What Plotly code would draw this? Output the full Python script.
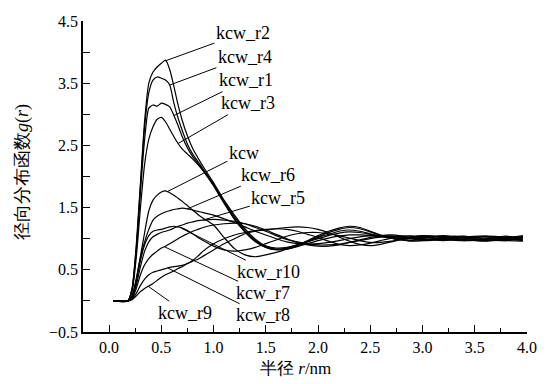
import plotly.graph_objects as go

# radius grid (nm)
r = [0.04, 0.18, 0.22, 0.26, 0.30, 0.34, 0.38, 0.42, 0.46, 0.50, 0.54, 0.58, 0.62, 0.66, 0.70,
     0.75, 0.80, 0.85, 0.90, 1.00, 1.10, 1.20, 1.30, 1.40, 1.50, 1.60, 1.70, 1.80, 1.90, 2.00,
     2.10, 2.20, 2.30, 2.40, 2.50, 2.60, 2.70, 2.80, 2.90, 3.00, 3.20, 3.40, 3.60, 3.80, 3.96]

kcw_r2 = [0, 0, 0.20, 0.90, 1.90, 2.90, 3.50, 3.68, 3.76, 3.82, 3.87, 3.72, 3.45, 3.15, 2.90,
          2.65, 2.45, 2.30, 2.16, 1.90, 1.62, 1.38, 1.16, 0.99, 0.88, 0.83, 0.84, 0.89, 0.97, 1.05,
          1.12, 1.17, 1.20, 1.18, 1.12, 1.06, 1.01, 0.98, 0.96, 0.97, 1.02, 1.04, 0.99, 0.97, 1.03]
kcw_r4 = [0, 0, 0.20, 0.85, 1.85, 2.80, 3.35, 3.55, 3.60, 3.58, 3.55, 3.47, 3.18, 2.94, 2.74,
          2.52, 2.36, 2.24, 2.12, 1.88, 1.60, 1.35, 1.13, 0.97, 0.86, 0.82, 0.83, 0.88, 0.95, 1.03,
          1.10, 1.15, 1.18, 1.16, 1.11, 1.05, 1.01, 0.98, 0.97, 0.99, 0.97, 1.00, 1.04, 1.02, 0.98]
kcw_r1 = [0, 0, 0.18, 0.80, 1.75, 2.60, 3.10, 3.15, 3.13, 3.18, 3.16, 3.12, 2.98, 2.82, 2.64,
          2.46, 2.32, 2.21, 2.10, 1.86, 1.58, 1.32, 1.11, 0.95, 0.86, 0.83, 0.85, 0.90, 0.96, 1.02,
          1.07, 1.12, 1.14, 1.12, 1.08, 1.04, 1.01, 0.99, 1.00, 1.02, 1.00, 0.97, 0.98, 1.03, 1.01]
kcw_r3 = [0, 0, 0.15, 0.70, 1.50, 2.20, 2.60, 2.80, 2.92, 2.95, 2.88, 2.76, 2.64, 2.53, 2.44,
          2.36, 2.28, 2.19, 2.09, 1.85, 1.57, 1.31, 1.11, 0.96, 0.88, 0.85, 0.86, 0.90, 0.95, 1.00,
          1.05, 1.09, 1.11, 1.10, 1.07, 1.04, 1.03, 1.02, 1.02, 1.03, 1.04, 1.01, 0.97, 0.98, 1.04]
kcw = [0, 0, 0.08, 0.35, 0.72, 1.10, 1.45, 1.62, 1.70, 1.75, 1.77, 1.74, 1.70, 1.65, 1.60,
       1.53, 1.46, 1.39, 1.33, 1.22, 1.02, 0.84, 0.74, 0.71, 0.74, 0.78, 0.83, 0.87, 0.92, 0.97,
       1.01, 1.04, 1.06, 1.06, 1.05, 1.03, 1.01, 1.00, 1.00, 1.00, 0.98, 1.02, 1.03, 1.00, 0.97]
kcw_r6 = [0, 0, 0.08, 0.35, 0.70, 0.95, 1.15, 1.30, 1.36, 1.40, 1.43, 1.45, 1.47, 1.48, 1.49,
          1.48, 1.46, 1.44, 1.42, 1.38, 1.32, 1.26, 1.19, 1.12, 1.06, 1.00, 0.95, 0.92, 0.91, 0.92,
          0.94, 0.97, 1.00, 1.03, 1.05, 1.05, 1.04, 1.02, 1.00, 0.98, 1.01, 1.03, 1.01, 0.98, 1.02]
kcw_r5 = [0, 0, 0.05, 0.25, 0.55, 0.80, 0.95, 1.03, 1.07, 1.10, 1.12, 1.14, 1.17, 1.20, 1.22,
          1.25, 1.27, 1.29, 1.30, 1.31, 1.30, 1.28, 1.24, 1.18, 1.12, 1.05, 0.99, 0.95, 0.92, 0.90,
          0.90, 0.91, 0.94, 0.97, 1.00, 1.03, 1.04, 1.04, 1.04, 1.03, 0.99, 0.97, 1.00, 1.04, 1.00]
kcw_r10 = [0, 0, 0.05, 0.30, 0.65, 0.90, 1.05, 1.12, 1.14, 1.15, 1.17, 1.19, 1.20, 1.19, 1.17,
           1.13, 1.08, 1.02, 0.97, 0.88, 0.82, 0.80, 0.82, 0.86, 0.92, 0.98, 1.04, 1.08, 1.10, 1.10,
           1.08, 1.05, 1.01, 0.97, 0.94, 0.94, 0.96, 0.99, 1.02, 1.04, 1.02, 0.98, 0.97, 1.01, 1.05]
kcw_r7 = [0, 0, 0.04, 0.20, 0.42, 0.58, 0.68, 0.75, 0.80, 0.85, 0.88, 0.92, 0.96, 1.00, 1.04,
          1.08, 1.12, 1.15, 1.18, 1.22, 1.24, 1.25, 1.24, 1.20, 1.14, 1.07, 1.00, 0.94, 0.90, 0.88,
          0.88, 0.90, 0.94, 0.98, 1.02, 1.05, 1.06, 1.04, 1.00, 0.97, 0.99, 1.03, 1.04, 0.99, 0.99]
kcw_r8 = [0, 0, 0.03, 0.12, 0.25, 0.35, 0.42, 0.46, 0.48, 0.50, 0.52, 0.54, 0.55, 0.56, 0.57,
          0.60, 0.65, 0.72, 0.80, 0.92, 1.00, 1.06, 1.10, 1.13, 1.15, 1.16, 1.15, 1.12, 1.07, 1.02,
          0.96, 0.91, 0.89, 0.90, 0.93, 0.97, 1.01, 1.04, 1.04, 1.01, 1.05, 1.02, 0.98, 0.97, 0.96]
kcw_r9 = [0, 0, 0.02, 0.08, 0.15, 0.20, 0.24, 0.28, 0.33, 0.38, 0.42, 0.45, 0.48, 0.52, 0.55,
          0.60, 0.64, 0.67, 0.72, 0.82, 0.92, 1.00, 1.08, 1.12, 1.14, 1.16, 1.18, 1.19, 1.18, 1.15,
          1.10, 1.03, 0.96, 0.91, 0.89, 0.91, 0.95, 0.99, 1.03, 1.05, 1.03, 0.99, 0.96, 1.00, 1.03]

series = [("kcw_r2", kcw_r2), ("kcw_r4", kcw_r4), ("kcw_r1", kcw_r1), ("kcw_r3", kcw_r3),
          ("kcw", kcw), ("kcw_r6", kcw_r6), ("kcw_r5", kcw_r5), ("kcw_r10", kcw_r10),
          ("kcw_r7", kcw_r7), ("kcw_r8", kcw_r8), ("kcw_r9", kcw_r9)]

# label text position (r, g) and leader target on curve (r, g)
labels = {
    "kcw_r2": ((1.28, 4.31), (0.54, 3.86)),
    "kcw_r4": ((1.30, 3.92), (0.58, 3.47)),
    "kcw_r1": ((1.31, 3.55), (0.62, 2.98)),
    "kcw_r3": ((1.33, 3.18), (0.66, 2.53)),
    "kcw": ((1.29, 2.38), (0.56, 1.76)),
    "kcw_r6": ((1.52, 2.03), (0.75, 1.48)),
    "kcw_r5": ((1.62, 1.66), (0.90, 1.30)),
    "kcw_r10": ((1.53, 0.47), (0.69, 1.17)),
    "kcw_r7": ((1.47, 0.13), (0.53, 0.87)),
    "kcw_r8": ((1.47, -0.23), (0.56, 0.53)),
    "kcw_r9": ((0.73, -0.19), (0.37, 0.24)),
}

x_ticks = [0.0, 0.5, 1.0, 1.5, 2.0, 2.5, 3.0, 3.5, 4.0]
x_ticktext = ["0.0", "0.5", "1.0", "1.5", "2.0", "2.5", "3.0", "3.5", "4.0"]
y_ticks = [-0.5, 0, 0.5, 1, 1.5, 2, 2.5, 3, 3.5, 4, 4.5]
y_ticktext = ["−0.5", "", "0.5", "", "1.5", "", "2.5", "", "3.5", "", "4.5"]

serif = "Liberation Serif"

fig = go.Figure()
for name, vals in series:
    fig.add_trace(go.Scatter(x=r, y=vals, mode="lines", name=name,
                             line=dict(color="black", width=1.2, shape="spline", smoothing=0.6),
                             showlegend=False, hoverinfo="skip"))

for name, ((tx, ty), (px, py)) in labels.items():
    fig.add_annotation(x=px, y=py, ax=tx, ay=ty, xref="x", yref="y", axref="x", ayref="y",
                       text=name, showarrow=True, arrowhead=0, arrowwidth=1, arrowcolor="black",
                       standoff=0, startstandoff=0,
                       font=dict(family=serif, size=18, color="black"))

fig.add_annotation(text="径向分布函数<i>g</i>(<i>r</i>)", xref="paper", yref="paper",
                   x=-0.135, y=0.515, xanchor="center", yanchor="middle", textangle=-90,
                   showarrow=False, font=dict(family=serif, size=18, color="black"))
fig.add_annotation(text="半径 <i>r</i>/nm", xref="paper", yref="paper",
                   x=0.478, y=-0.116, xanchor="center", yanchor="middle", showarrow=False,
                   font=dict(family=serif, size=17, color="black"))

fig.update_xaxes(range=[-0.25, 4.0], tickvals=x_ticks, ticktext=x_ticktext,
                 ticks="inside", ticklen=7, tickwidth=1.2, tickcolor="black",
                 minor=dict(dtick=0.25, tick0=0, ticks="inside", ticklen=4, tickwidth=1.2, tickcolor="black"),
                 showline=True, linecolor="black", linewidth=1.5, showgrid=False, zeroline=False,
                 tickfont=dict(family=serif, size=16, color="black"))
fig.update_yaxes(range=[-0.5, 4.5], tickvals=y_ticks, ticktext=y_ticktext,
                 ticks="inside", ticklen=7, tickwidth=1.2, tickcolor="black",
                 showline=True, linecolor="black", linewidth=1.5, showgrid=False, zeroline=False,
                 tickfont=dict(family=serif, size=16, color="black"))

fig.update_layout(width=549, height=384, margin=dict(l=83, r=12, t=21, b=52),
                  paper_bgcolor="white", plot_bgcolor="white")

fig.write_html("out.html")
